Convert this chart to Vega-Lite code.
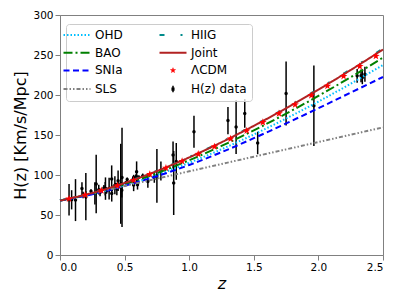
{
  "$schema": "https://vega.github.io/schema/vega-lite/v6.json",
  "width": 323,
  "height": 240,
  "autosize": {"type": "none"},
  "padding": {"left": 60, "top": 15, "right": 20, "bottom": 47},
  "background": "white",
  "config": {
    "view": {"stroke": "#808080", "strokeWidth": 1},
    "axis": {"grid": false, "domainColor": "#808080", "tickColor": "#808080", "labelColor": "black", "labelFont": "DejaVu Sans", "labelFontSize": 10.5, "titleFont": "DejaVu Sans", "titleFontWeight": "normal", "titleFontSize": 16, "titleColor": "black", "tickSize": 5, "labelPadding": 2}
  },
  "datasets": {
    "hz": [
      {"z": 0.07, "H": 69, "err": 19.6}, {"z": 0.09, "H": 69, "err": 12}, {"z": 0.12, "H": 68.6, "err": 26.2},
      {"z": 0.17, "H": 83, "err": 8}, {"z": 0.179, "H": 75, "err": 4}, {"z": 0.199, "H": 75, "err": 5},
      {"z": 0.2, "H": 72.9, "err": 29.6}, {"z": 0.27, "H": 77, "err": 14}, {"z": 0.28, "H": 88.8, "err": 36.6},
      {"z": 0.352, "H": 83, "err": 14}, {"z": 0.3802, "H": 83, "err": 13.5}, {"z": 0.4, "H": 95, "err": 17},
      {"z": 0.4004, "H": 77, "err": 10.2}, {"z": 0.4247, "H": 87.1, "err": 11.2}, {"z": 0.4497, "H": 92.8, "err": 12.9},
      {"z": 0.47, "H": 89, "err": 50}, {"z": 0.4783, "H": 80.9, "err": 9}, {"z": 0.48, "H": 97, "err": 62},
      {"z": 0.593, "H": 104, "err": 13}, {"z": 0.68, "H": 92, "err": 8}, {"z": 0.75, "H": 98.8, "err": 33.6},
      {"z": 0.781, "H": 105, "err": 12}, {"z": 0.875, "H": 125, "err": 17}, {"z": 0.88, "H": 90, "err": 40},
      {"z": 0.9, "H": 117, "err": 23}, {"z": 1.037, "H": 154, "err": 20}, {"z": 1.3, "H": 168, "err": 17},
      {"z": 1.363, "H": 160, "err": 33.6}, {"z": 1.43, "H": 177, "err": 18}, {"z": 1.53, "H": 140, "err": 14},
      {"z": 1.75, "H": 202, "err": 40}, {"z": 1.965, "H": 186.5, "err": 50.4},
      {"z": 0.24, "H": 79.69, "err": 2.65}, {"z": 0.3, "H": 81.7, "err": 6.22}, {"z": 0.31, "H": 78.18, "err": 4.74},
      {"z": 0.34, "H": 83.8, "err": 3.66}, {"z": 0.35, "H": 82.7, "err": 8.4}, {"z": 0.36, "H": 79.93, "err": 3.39},
      {"z": 0.38, "H": 81.5, "err": 1.9}, {"z": 0.4, "H": 82.04, "err": 2.03}, {"z": 0.43, "H": 86.45, "err": 3.68},
      {"z": 0.44, "H": 82.6, "err": 7.8}, {"z": 0.44, "H": 84.81, "err": 1.83}, {"z": 0.48, "H": 87.79, "err": 2.03},
      {"z": 0.51, "H": 90.4, "err": 1.9}, {"z": 0.52, "H": 94.35, "err": 2.64}, {"z": 0.56, "H": 93.34, "err": 2.3},
      {"z": 0.57, "H": 87.6, "err": 7.8}, {"z": 0.57, "H": 96.8, "err": 3.4}, {"z": 0.59, "H": 98.48, "err": 3.18},
      {"z": 0.6, "H": 87.9, "err": 6.1}, {"z": 0.61, "H": 97.3, "err": 2.1}, {"z": 0.64, "H": 98.82, "err": 2.98},
      {"z": 0.73, "H": 97.3, "err": 7}, {"z": 2.3, "H": 224, "err": 8.6}, {"z": 2.33, "H": 224, "err": 8},
      {"z": 2.34, "H": 222, "err": 8.5}, {"z": 2.36, "H": 226, "err": 9.3}
    ],
    "models": [
      {"series": "OHD", "z": 0, "H": 68}, {"series": "OHD", "z": 0.25, "H": 76.17}, {"series": "OHD", "z": 0.5, "H": 86.95}, {"series": "OHD", "z": 0.75, "H": 100.07}, {"series": "OHD", "z": 1.0, "H": 115.24}, {"series": "OHD", "z": 1.25, "H": 132.18}, {"series": "OHD", "z": 1.5, "H": 150.69}, {"series": "OHD", "z": 1.75, "H": 170.59}, {"series": "OHD", "z": 2.0, "H": 191.76}, {"series": "OHD", "z": 2.25, "H": 214.09}, {"series": "OHD", "z": 2.5, "H": 237.49},
      {"series": "BAO", "z": 0, "H": 68}, {"series": "BAO", "z": 0.25, "H": 76.84}, {"series": "BAO", "z": 0.5, "H": 88.4}, {"series": "BAO", "z": 0.75, "H": 102.37}, {"series": "BAO", "z": 1.0, "H": 118.43}, {"series": "BAO", "z": 1.25, "H": 136.31}, {"series": "BAO", "z": 1.5, "H": 155.79}, {"series": "BAO", "z": 1.75, "H": 176.68}, {"series": "BAO", "z": 2.0, "H": 198.87}, {"series": "BAO", "z": 2.25, "H": 222.25}, {"series": "BAO", "z": 2.5, "H": 246.73},
      {"series": "SNIa", "z": 0, "H": 68}, {"series": "SNIa", "z": 0.25, "H": 76}, {"series": "SNIa", "z": 0.5, "H": 86.5}, {"series": "SNIa", "z": 0.75, "H": 98.5}, {"series": "SNIa", "z": 1.0, "H": 112.5}, {"series": "SNIa", "z": 1.25, "H": 128.5}, {"series": "SNIa", "z": 1.5, "H": 146}, {"series": "SNIa", "z": 1.75, "H": 164.5}, {"series": "SNIa", "z": 2.0, "H": 183.5}, {"series": "SNIa", "z": 2.25, "H": 203}, {"series": "SNIa", "z": 2.5, "H": 222.5},
      {"series": "SLS", "z": 0, "H": 68}, {"series": "SLS", "z": 0.25, "H": 77.15}, {"series": "SLS", "z": 0.5, "H": 86.3}, {"series": "SLS", "z": 0.75, "H": 95.45}, {"series": "SLS", "z": 1.0, "H": 104.6}, {"series": "SLS", "z": 1.25, "H": 113.75}, {"series": "SLS", "z": 1.5, "H": 122.9}, {"series": "SLS", "z": 1.75, "H": 132.05}, {"series": "SLS", "z": 2.0, "H": 141.2}, {"series": "SLS", "z": 2.25, "H": 150.35}, {"series": "SLS", "z": 2.5, "H": 159.5},
      {"series": "HIIG", "z": 0, "H": 68}, {"series": "HIIG", "z": 0.25, "H": 77.68}, {"series": "HIIG", "z": 0.5, "H": 90.21}, {"series": "HIIG", "z": 0.75, "H": 105.24}, {"series": "HIIG", "z": 1.0, "H": 122.4}, {"series": "HIIG", "z": 1.25, "H": 141.42}, {"series": "HIIG", "z": 1.5, "H": 162.06}, {"series": "HIIG", "z": 1.75, "H": 184.17}, {"series": "HIIG", "z": 2.0, "H": 207.6}, {"series": "HIIG", "z": 2.25, "H": 232.25}, {"series": "HIIG", "z": 2.5, "H": 258.04},
      {"series": "Joint", "z": 0, "H": 68}, {"series": "Joint", "z": 0.25, "H": 77.6}, {"series": "Joint", "z": 0.5, "H": 90.03}, {"series": "Joint", "z": 0.75, "H": 104.95}, {"series": "Joint", "z": 1.0, "H": 122.0}, {"series": "Joint", "z": 1.25, "H": 140.91}, {"series": "Joint", "z": 1.5, "H": 161.44}, {"series": "Joint", "z": 1.75, "H": 183.42}, {"series": "Joint", "z": 2.0, "H": 206.72}, {"series": "Joint", "z": 2.25, "H": 231.25}, {"series": "Joint", "z": 2.5, "H": 256.91}
    ],
    "lcdm": [
      {"series": "ΛCDM", "z": 0.07, "H": 70.33}, {"series": "ΛCDM", "z": 0.195, "H": 75.08}, {"series": "ΛCDM", "z": 0.32, "H": 80.54}, {"series": "ΛCDM", "z": 0.445, "H": 86.69},
      {"series": "ΛCDM", "z": 0.57, "H": 93.48}, {"series": "ΛCDM", "z": 0.695, "H": 100.85}, {"series": "ΛCDM", "z": 0.82, "H": 108.78}, {"series": "ΛCDM", "z": 0.945, "H": 117.21},
      {"series": "ΛCDM", "z": 1.07, "H": 126.11}, {"series": "ΛCDM", "z": 1.195, "H": 135.46}, {"series": "ΛCDM", "z": 1.32, "H": 145.22}, {"series": "ΛCDM", "z": 1.445, "H": 155.38},
      {"series": "ΛCDM", "z": 1.57, "H": 165.9}, {"series": "ΛCDM", "z": 1.695, "H": 176.78}, {"series": "ΛCDM", "z": 1.82, "H": 187.98}, {"series": "ΛCDM", "z": 1.945, "H": 199.51},
      {"series": "ΛCDM", "z": 2.07, "H": 211.34}, {"series": "ΛCDM", "z": 2.195, "H": 223.48}, {"series": "ΛCDM", "z": 2.32, "H": 235.89}, {"series": "ΛCDM", "z": 2.445, "H": 248.59}
    ]
  },
  "encoding": {
    "x": {"field": "z", "type": "quantitative", "scale": {"domain": [0, 2.5], "nice": false, "zero": false}, "axis": {"values": [0, 0.5, 1, 1.5, 2, 2.5], "format": ".1f", "title": "z", "titleFontStyle": "italic", "titlePadding": 3}},
    "y": {"field": "H", "type": "quantitative", "scale": {"domain": [0, 300], "nice": false}, "axis": {"values": [0, 50, 100, 150, 200, 250, 300], "title": "H(z) [Km/s/Mpc]", "titlePadding": 4}}
  },
  "layer": [
    {
      "data": {"name": "hz"},
      "mark": {"type": "errorbar", "color": "black", "thickness": 1.5, "ticks": false},
      "encoding": {"yError": {"field": "err"}}
    },
    {
      "data": {"name": "hz"},
      "mark": {"type": "point", "filled": true, "color": "black", "size": 12, "opacity": 1}
    },
    {
      "data": {"name": "models"},
      "mark": {"type": "line", "strokeWidth": 2, "interpolate": "monotone"},
      "encoding": {
        "color": {
          "field": "series", "type": "nominal",
          "scale": {"domain": ["OHD", "BAO", "SNIa", "SLS", "HIIG", "Joint", "ΛCDM", "H(z) data"], "range": ["#00bfff", "#008000", "#0000ff", "#808080", "#008b8b", "#b22222", "#ff0000", "#000000"]},
          "legend": {
            "title": null, "orient": "none", "legendX": 6, "legendY": 9, "columns": 2, "columnPadding": 32, "rowPadding": 5.7,
            "symbolType": "stroke", "symbolSize": 729, "symbolStrokeWidth": 2,
            "labelFontSize": 12, "labelFont": "DejaVu Sans", "labelColor": "black", "labelOffset": 12,
            "padding": 5, "strokeColor": "#cccccc", "cornerRadius": 3, "fillColor": "rgba(255,255,255,0.8)",
            "encode": {"symbols": {"update": {
              "shape": {"signal": "datum.value === 'ΛCDM' ? 'M0,-0.2L0.047,-0.065L0.19,-0.062L0.076,0.025L0.118,0.162L0,0.08L-0.118,0.162L-0.076,0.025L-0.19,-0.062L-0.047,-0.065Z' : datum.value === 'H(z) data' ? 'M0,-0.24V0.24M-0.06,-0.06H0.06V0.06H-0.06Z' : 'stroke'"},
              "fill": {"signal": "datum.value === 'ΛCDM' ? '#ff0000' : datum.value === 'H(z) data' ? '#000000' : 'transparent'"},
              "strokeDash": {"signal": "datum.value === 'OHD' ? [1.5, 2] : datum.value === 'BAO' ? [9, 3, 2, 3] : datum.value === 'SNIa' ? [6, 3.5] : datum.value === 'SLS' ? [4, 2, 1.5, 2, 1.5, 2] : datum.value === 'HIIG' ? [5, 16, 2, 16] : [1, 0]"},
              "strokeWidth": {"signal": "datum.value === 'H(z) data' ? 1.5 : datum.value === 'ΛCDM' ? 0.5 : 2"},
              "opacity": {"value": 1}
            }}}
          }
        },
        "strokeDash": {
          "field": "series", "type": "nominal", "legend": null,
          "scale": {"domain": ["OHD", "BAO", "SNIa", "SLS", "HIIG", "Joint"], "range": [[1.5, 2], [9, 3, 2, 3], [6, 3.5], [4, 2, 1.5, 2, 1.5, 2], [5, 16, 2, 16], [1, 0]]}
        }
      }
    },
    {
      "data": {"name": "lcdm"},
      "mark": {"type": "point", "shape": "M0,-1L0.235,-0.324L0.951,-0.309L0.38,0.124L0.588,0.809L0,0.4L-0.588,0.809L-0.38,0.124L-0.951,-0.309L-0.235,-0.324Z", "filled": true, "size": 64, "opacity": 1},
      "encoding": {"color": {"field": "series", "type": "nominal"}}
    }
  ]
}
